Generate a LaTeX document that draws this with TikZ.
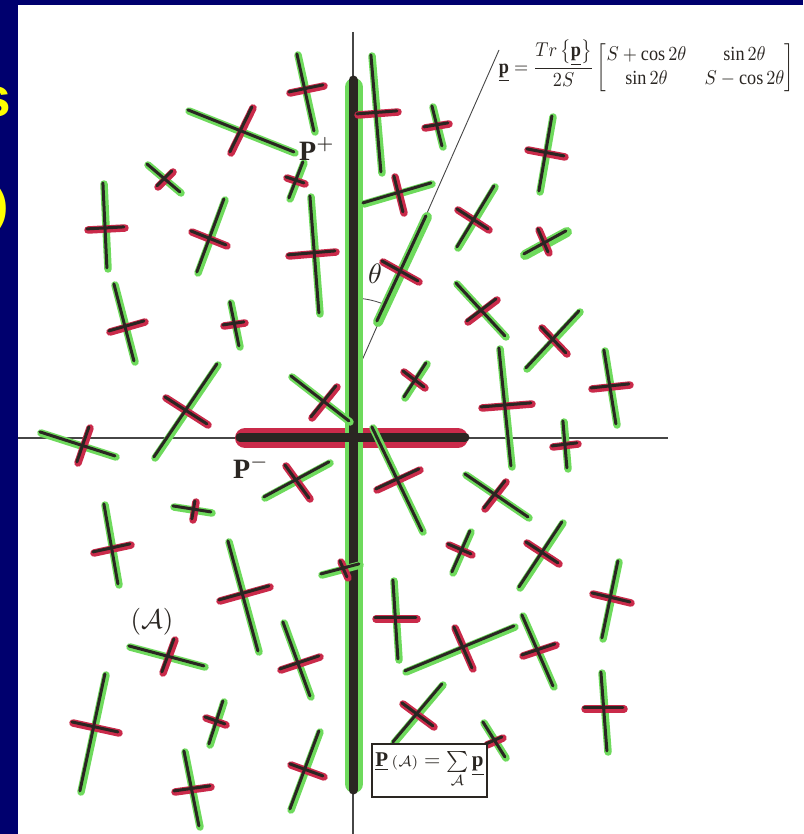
\documentclass[tikz,border=0pt]{standalone}
\usepackage{amsmath}
\usepackage{fontspec}
\setmainfont{Liberation Serif}
\newfontfamily\ttlfont{Liberation Sans}
\definecolor{navy}{RGB}{0,0,110}
\definecolor{hlgreen}{RGB}{110,218,92}
\definecolor{hlred}{RGB}{202,42,74}
\definecolor{ink}{RGB}{42,38,34}
\definecolor{axisgray}{RGB}{70,70,70}
\definecolor{ttl}{RGB}{255,255,0}
\tikzset{
  gband/.style={hlgreen, line width=7.5pt, line cap=round},
  rband/.style={hlred, line width=7.5pt, line cap=round},
  inkline/.style={ink, line width=3pt, line cap=round, xshift=-1.1pt, yshift=1.1pt},
  axisline/.style={axisgray, line width=1.1pt},
  lbl/.style={inner sep=0pt, text=ink}
}
\newcommand\xcr[8]{%
  \draw[gband] (#1,#2) -- (#3,#4);
  \draw[rband] (#5,#6) -- (#7,#8);
  \draw[inkline] (#1,#2) -- (#3,#4);
  \draw[inkline] (#5,#6) -- (#7,#8);
}
\begin{document}
\begin{tikzpicture}[x=1pt,y=-1pt]
\useasboundingbox (0,0) rectangle (803,834);
\fill[navy] (0,0) rectangle (803,834);
\fill[white] (18,5) rectangle (803,834);
% partial title letters
\node[anchor=base east, inner sep=0pt, text=ttl, scale=5.5, font=\ttlfont\bfseries] (ts) at (12,117) {s};
\node[anchor=base east, inner sep=0pt, text=ttl, scale=4.5, font=\ttlfont\bfseries] (tp) at (9,221) {)};
% thin axes and theta line
\draw[axisline] (353,32) -- (353,834);
\draw[axisline] (18,438) -- (668,438);
\coordinate (V) at (352,383);
\coordinate (T) at (499,50);
\draw[axisline, line width=0.9pt] (V) -- (T);
\draw[axisline, line width=0.8pt] (352,298) arc[start angle=-90, end angle=-64, radius=85];
% resultant bars
\draw[hlred, line width=20pt, line cap=round] (245,438) -- (458,438);
\draw[hlgreen, line width=18pt, line cap=round] (354,87) -- (354,784);
\draw[ink, line width=9pt, line cap=round] (240,437) -- (465,437);
\draw[ink, line width=9pt, line cap=round] (353,80) -- (353,790);
% crosses
\xcr{298}{55}{315}{132}{290}{93}{324}{86}
\xcr{189}{111}{295}{153}{231}{153}{253}{108}
\xcr{148}{165}{181}{193}{158}{187}{173}{172}
\xcr{304}{163}{290}{199}{287}{178}{305}{184}
\xcr{104}{184}{108}{269}{88}{230}{125}{228}
\xcr{225}{200}{198}{273}{192}{232}{227}{246}
\xcr{311}{197}{320}{314}{289}{256}{336}{252}
\xcr{115}{285}{135}{362}{110}{332}{145}{322}
\xcr{231}{303}{240}{347}{224}{326}{245}{323}
\xcr{218}{365}{155}{458}{166}{398}{208}{425}
\xcr{292}{377}{350}{422}{337}{387}{312}{418}
\xcr{372}{56}{382}{173}{358}{115}{398}{112}
\xcr{433}{107}{443}{147}{425}{128}{449}{124}
\xcr{553}{117}{540}{192}{528}{150}{565}{157}
\xcr{364}{204}{432}{184}{395}{177}{404}{213}
\xcr{495}{187}{458}{248}{458}{210}{489}{230}
\draw[hlgreen, line width=10pt, line cap=round] (525,255) -- (567,232);
\xcr{525}{255}{567}{232}{539}{230}{549}{253}
\draw[hlgreen, line width=10pt, line cap=round] (378,322) -- (427,217);
\xcr{378}{322}{427}{217}{383}{262}{419}{282}
\xcr{457}{284}{506}{337}{468}{322}{497}{300}
\xcr{580}{312}{527}{369}{542}{328}{567}{354}
\xcr{427}{364}{405}{398}{404}{372}{425}{388}
\xcr{605}{351}{617}{425}{592}{389}{630}{385}
\xcr{500}{349}{512}{467}{482}{408}{532}{404}
\xcr{373}{428}{423}{532}{377}{490}{420}{470}
\xcr{41}{433}{116}{457}{90}{428}{78}{463}
\xcr{265}{498}{330}{463}{286}{466}{310}{499}
\xcr{174}{507}{212}{513}{196}{502}{193}{520}
\xcr{105}{505}{119}{585}{94}{553}{131}{545}
\xcr{322}{575}{360}{565}{341}{562}{348}{578}
\xcr{229}{542}{259}{652}{220}{601}{270}{587}
\xcr{130}{647}{205}{667}{175}{640}{163}{673}
\xcr{284}{623}{311}{697}{281}{670}{320}{657}
\xcr{106}{675}{81}{792}{73}{723}{119}{733}
\xcr{224}{702}{210}{745}{206}{718}{226}{725}
\xcr{185}{752}{200}{827}{175}{792}{211}{787}
\xcr{320}{732}{291}{810}{291}{765}{324}{777}
\xcr{564}{422}{568}{469}{553}{447}{578}{444}
\xcr{466}{475}{529}{518}{506}{482}{485}{509}
\xcr{471}{532}{453}{573}{449}{545}{472}{555}
\xcr{563}{523}{520}{588}{527}{543}{559}{564}
\xcr{619}{562}{603}{639}{593}{594}{631}{603}
\xcr{394}{581}{399}{660}{376}{619}{417}{619}
\xcr{406}{672}{515}{627}{455}{628}{473}{669}
\xcr{523}{616}{554}{687}{523}{656}{556}{645}
\xcr{443}{685}{394}{743}{403}{704}{434}{727}
\xcr{484}{723}{506}{758}{487}{745}{503}{738}
\xcr{602}{673}{608}{752}{585}{709}{624}{709}
% labels
\node[lbl, xscale=1.82, yscale=2.0] (formula) at (646.5,66)
  {$\underline{\mathbf{p}}=\dfrac{Tr\left\{\underline{\mathbf{p}}\right\}}{2S}\begin{bmatrix} S+\cos 2\theta & \sin 2\theta\\ \sin 2\theta & S-\cos 2\theta\end{bmatrix}$};
\node[lbl, scale=2.8] (Pplus) at (317,149) {\textbf{P}$^{+}$};
\node[lbl, scale=2.8] (Pminus) at (251,467) {\textbf{P}$^{-}$};
\node[lbl, scale=2.7] (Aset) at (152,622) {$(\mathcal{A})$};
\node[lbl, scale=2.8] (theta) at (375,274) {$\theta$};
\node[draw=ink, line width=1.2pt, fill=white, minimum width=115pt, minimum height=53pt, inner sep=0pt] (sumbox) at (429.5,770.5) {};
\node[lbl, scale=2.1] (sumtext) at ([yshift=1pt]sumbox.center)
  {$\underline{\mathbf{P}}\,{\scriptstyle(\mathcal{A})}=\sum\limits_{\mathcal{A}}\underline{\mathbf{p}}$};
\end{tikzpicture}
\end{document}
